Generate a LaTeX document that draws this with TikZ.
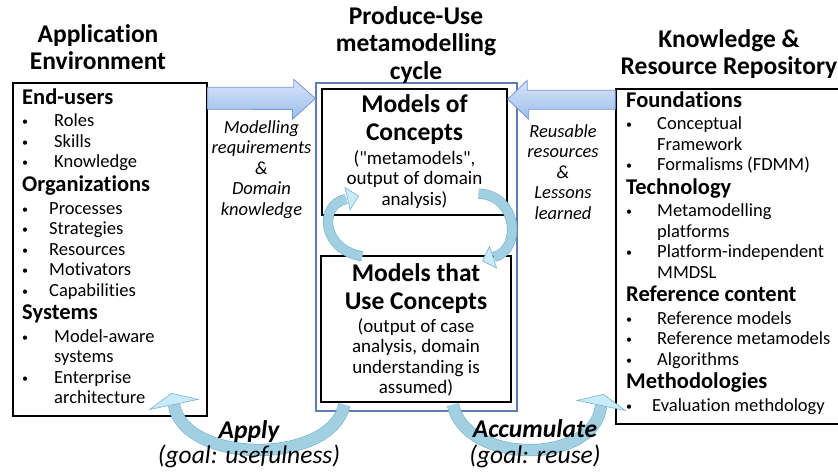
\documentclass[tikz,border=0pt]{standalone}
\usepackage{fontspec}
\setmainfont{Carlito}[Ligatures={NoCommon,TeX}]
\usetikzlibrary{shapes,arrows.meta,positioning,calc}

\definecolor{cycleline}{RGB}{95,125,180}
\definecolor{arrowtop}{RGB}{215,229,249}
\definecolor{arrowbottom}{RGB}{158,189,235}
\definecolor{arrowline}{RGB}{118,152,212}
\definecolor{arcfill}{RGB}{160,208,226}
\definecolor{arcline}{RGB}{120,178,200}
\definecolor{archeadfill}{RGB}{200,236,249}

\newcommand{\sechead}[1]{{\fontsize{22.5}{24}\selectfont\bfseries #1}}
\newcommand{\bul}[2]{\makebox[#1][l]{\raisebox{1.2pt}{\fontsize{12}{12}\selectfont\textbullet}}#2}

\begin{document}
\begin{tikzpicture}[x=1pt, y=-1pt,
    box/.style={rectangle, draw, line width=1.4pt, inner sep=0pt},
    title/.style={align=center, inner sep=0pt, anchor=north, font=\fontsize{25.5}{27.5}\selectfont\bfseries},
    note/.style={align=center, inner sep=0pt, anchor=north, font=\fontsize{19}{20.5}\selectfont},
    flowlabel/.style={align=center, inner sep=0pt, anchor=north, font=\fontsize{18.5}{20.6}\selectfont\itshape},
    listtext/.style={align=left, inner sep=0pt, anchor=north west, font=\fontsize{18.5}{20.5}\selectfont},
    goaltext/.style={inner sep=0pt, anchor=base, font=\fontsize{25.5}{27}\selectfont\itshape},
    bigarrow/.style={draw=arrowline, line width=0.8pt, top color=arrowtop, bottom color=arrowbottom},
    arcshaft/.style={arcline, line width=0.6pt, double=arcfill, double distance=#1},
    archead/.style={draw=arcline, line width=0.6pt, -{Triangle[width=#1,length=12pt,fill=archeadfill]}}
]
    \useasboundingbox (0,0) rectangle (838,473);

    % boxes
    \node (appbox) [box, minimum width=194, minimum height=333] at (110,249.5) {};
    \node (cycbox) [rectangle, draw=cycleline, line width=1.2pt, minimum width=201, minimum height=328] at (416.5,247) {};
    \node (mcbox) [box, minimum width=185, minimum height=126] at (414.5,152) {};
    \node (mucbox) [box, minimum width=190, minimum height=146] at (416,329) {};
    \node (repbox) [box, minimum width=234, minimum height=335] at (733,256.5) {};

    % titles
    \node (apptitle) [title] at (98,24) {Application\\Environment};
    \node (cyctitle) [title] at (416,6) {Produce-Use\\metamodelling\\cycle};
    \node (reptitle) [title] at (729,29) {Knowledge \&\\Resource Repository};

    % application environment
    \node (applist) [listtext] at (22,89) {\sechead{End-users}\\[1.5pt]
        \bul{32pt}{Roles}\\
        \bul{32pt}{Skills}\\
        \bul{32pt}{Knowledge}\\[3pt]
        \sechead{Organizations}\\[2.5pt]
        \bul{27pt}{Processes}\\
        \bul{27pt}{Strategies}\\
        \bul{27pt}{Resources}\\
        \bul{27pt}{Motivators}\\
        \bul{27pt}{Capabilities}\\[3pt]
        \sechead{Systems}\\[2pt]
        \bul{32pt}{Model-aware}\\
        \hspace*{32pt}systems\\
        \bul{32pt}{Enterprise}\\
        \hspace*{32pt}architecture};

    % repository
    \node (replist) [listtext] at (626,92) {\sechead{Foundations}\\[1.5pt]
        \bul{31pt}{Conceptual}\\
        \hspace*{31pt}Framework\\
        \bul{31pt}{Formalisms (FDMM)}\\[3pt]
        \sechead{Technology}\\[2pt]
        \bul{31pt}{Metamodelling}\\
        \hspace*{31pt}platforms\\
        \bul{31pt}{Platform-independent}\\
        \hspace*{31pt}MMDSL\\[3pt]
        \sechead{Reference content}\\[2pt]
        \bul{31pt}{Reference models}\\
        \bul{31pt}{Reference metamodels}\\
        \bul{31pt}{Algorithms}\\[3pt]
        \sechead{Methodologies}\\[2pt]
        \bul{26pt}{Evaluation methdology}};

    % cycle contents
    \node (mctitle) [title] at (414.5,94.5) {Models of\\Concepts};
    \node (mcnote) [note] at (414.5,150) {(\textquotedbl metamodels\textquotedbl,\\output of domain\\analysis)};
    \node (muctitle) [title] at (416,263.5) {Models that\\Use Concepts};
    \node (mucnote) [note] at (416,318) {(output of case\\analysis, domain\\understanding is\\assumed)};

    % flow labels
    \node (reqlabel) [flowlabel] at (261.5,120) {Modelling\\requirements\\\&\\Domain\\knowledge};
    \node (reslabel) [flowlabel] at (563,124) {Reusable\\resources\\\&\\Lessons\\learned};

    % block arrows
    \shade[bigarrow] ($(appbox.north east)+(0,5)$) -- ++(86,0) -- ++(0,-8)
        -- ($(cycbox.north west)+(0,16)$) -- ++(-23,21) -- ++(0,-10)
        -- ($(appbox.north east)+(0,27)$) -- cycle;
    \shade[bigarrow] ($(repbox.north west)+(0,2)$) -- ++(-88,0) -- ++(0,-10)
        -- ($(mcbox.north east)+(0,11)$) -- ++(21,20) -- ++(0,-10)
        -- ($(repbox.north west)+(0,21)$) -- cycle;

    % cycle arrows
    \coordinate (leftend) at (346,199);
    \coordinate (lefttip) at (359,196);
    \draw[arcshaft=9pt] ($(mucbox.north west)+(42,1)$) .. controls (322,250) and (318,205) .. (leftend);
    \draw[archead=24pt] (leftend) -- (lefttip);
    \coordinate (rightend) at (494,257);
    \coordinate (righttip) at (482,261);
    \draw[arcshaft=9pt] ($(mcbox.south east)+(-29,-22)$) .. controls (518,195) and (522,250) .. (rightend);
    \draw[archead=24pt] (rightend) -- (righttip);

    % apply / accumulate arrows
    \coordinate (applyend) at (174,405);
    \coordinate (applytip) at (171.5,393);
    \draw[arcshaft=11pt] ($(mucbox.south west)+(24,2)$) .. controls (332,465) and (185,465) .. (applyend);
    \draw[archead=52pt] (applyend) -- (applytip);
    \coordinate (accend) at (601,406);
    \coordinate (acctip) at (603.5,394);
    \draw[arcshaft=11pt] ($(mucbox.south)+(37,2)$) .. controls (465,465) and (595,465) .. (accend);
    \draw[archead=52pt] (accend) -- (acctip);

    \node (applylabel) [goaltext, font=\fontsize{25.5}{27}\selectfont\bfseries\itshape] at (249,438) {Apply};
    \node (applygoal) [goaltext] at (249,463) {(goal: usefulness)};
    \node (acclabel) [goaltext, font=\fontsize{25.5}{27}\selectfont\bfseries\itshape] at (535,437) {Accumulate};
    \node (accgoal) [goaltext] at (535,463) {(goal: reuse)};
\end{tikzpicture}
\end{document}
